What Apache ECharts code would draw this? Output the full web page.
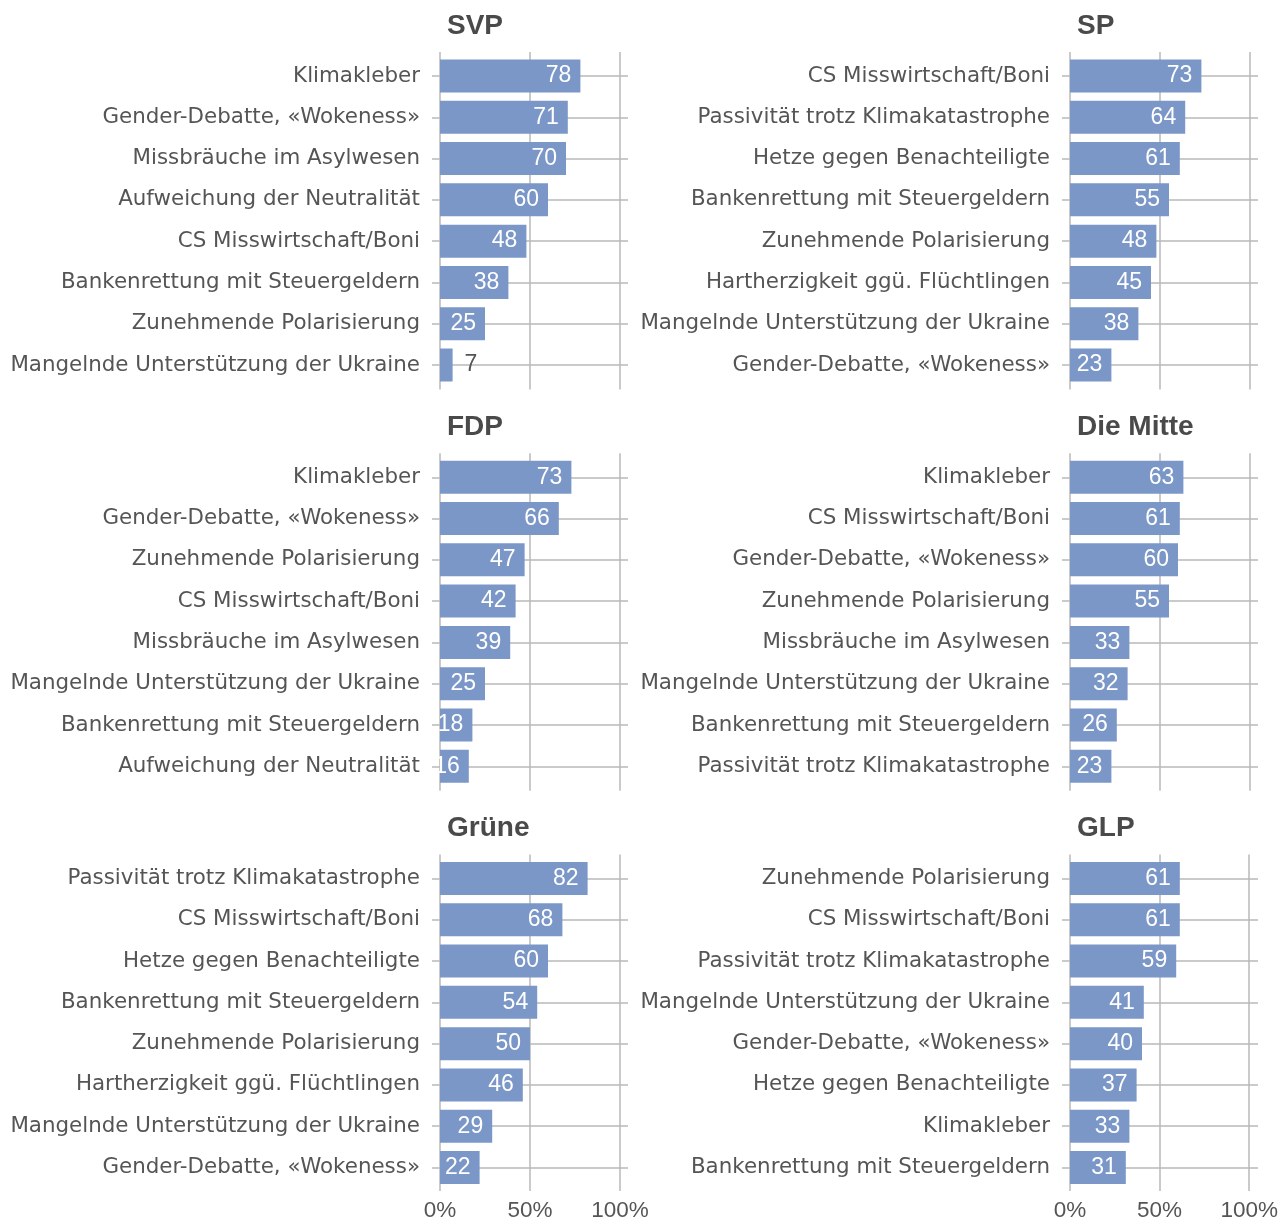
<!DOCTYPE html>
<html>
<head>
<meta charset="utf-8">
<script src="https://cdn.jsdelivr.net/npm/echarts@6/dist/echarts.min.js"></script>
<style>
  html, body { margin: 0; padding: 0; background: #fff; }
  #chart { width: 1281px; height: 1222px; }
</style>
</head>
<body>
<div id="chart"></div>
<script>
// data, in % of each party's voters
var svpCats = ['Klimakleber', 'Gender-Debatte, «Wokeness»', 'Missbräuche im Asylwesen', 'Aufweichung der Neutralität', 'CS Misswirtschaft/Boni', 'Bankenrettung mit Steuergeldern', 'Zunehmende Polarisierung', 'Mangelnde Unterstützung der Ukraine'];
var svpVals = [78, 71, 70, 60, 48, 38, 25, 7];

var spCats = ['CS Misswirtschaft/Boni', 'Passivität trotz Klimakatastrophe', 'Hetze gegen Benachteiligte', 'Bankenrettung mit Steuergeldern', 'Zunehmende Polarisierung', 'Hartherzigkeit ggü. Flüchtlingen', 'Mangelnde Unterstützung der Ukraine', 'Gender-Debatte, «Wokeness»'];
var spVals = [73, 64, 61, 55, 48, 45, 38, 23];

var fdpCats = ['Klimakleber', 'Gender-Debatte, «Wokeness»', 'Zunehmende Polarisierung', 'CS Misswirtschaft/Boni', 'Missbräuche im Asylwesen', 'Mangelnde Unterstützung der Ukraine', 'Bankenrettung mit Steuergeldern', 'Aufweichung der Neutralität'];
var fdpVals = [73, 66, 47, 42, 39, 25, 18, 16];

var mitteCats = ['Klimakleber', 'CS Misswirtschaft/Boni', 'Gender-Debatte, «Wokeness»', 'Zunehmende Polarisierung', 'Missbräuche im Asylwesen', 'Mangelnde Unterstützung der Ukraine', 'Bankenrettung mit Steuergeldern', 'Passivität trotz Klimakatastrophe'];
var mitteVals = [63, 61, 60, 55, 33, 32, 26, 23];

var grueneCats = ['Passivität trotz Klimakatastrophe', 'CS Misswirtschaft/Boni', 'Hetze gegen Benachteiligte', 'Bankenrettung mit Steuergeldern', 'Zunehmende Polarisierung', 'Hartherzigkeit ggü. Flüchtlingen', 'Mangelnde Unterstützung der Ukraine', 'Gender-Debatte, «Wokeness»'];
var grueneVals = [82, 68, 60, 54, 50, 46, 29, 22];

var glpCats = ['Zunehmende Polarisierung', 'CS Misswirtschaft/Boni', 'Passivität trotz Klimakatastrophe', 'Mangelnde Unterstützung der Ukraine', 'Gender-Debatte, «Wokeness»', 'Hetze gegen Benachteiligte', 'Klimakleber', 'Bankenrettung mit Steuergeldern'];
var glpVals = [61, 61, 59, 41, 40, 37, 33, 31];

var xTickLabels = ['0%', '50%', '100%'];

var panels = [
  { title: 'SVP', cats: svpCats, vals: svpVals },
  { title: 'SP', cats: spCats, vals: spVals },
  { title: 'FDP', cats: fdpCats, vals: fdpVals },
  { title: 'Die Mitte', cats: mitteCats, vals: mitteVals },
  { title: 'Grüne', cats: grueneCats, vals: grueneVals },
  { title: 'GLP', cats: glpCats, vals: glpVals }
];

var barColor = '#7b97c8';
var lineColor = '#b9b9b9';
var textColor = '#555555';

var myChart = echarts.init(document.getElementById('chart'));

var title = [], grid = [], xAxis = [], yAxis = [], series = [];

panels.forEach(function (p, i) {
  var col = i % 2;
  var row = Math.floor(i / 2);
  var x0 = col ? 1070 : 440;
  var top = row * 401.25;

  title.push({
    text: p.title,
    left: x0 + 7,
    top: top + 12,
    padding: 0,
    textStyle: { fontFamily: 'Liberation Sans', fontWeight: 'bold', fontSize: 28, color: '#4a4a4a' }
  });

  // grid with the vertical 0/50/100 lines (and bottom labels)
  var ga = grid.length;
  grid.push({ left: x0, top: top + 52, width: 180, height: 337.5 });
  xAxis.push({
    gridIndex: ga, type: 'value', min: 0, max: 100, interval: 50,
    axisLine: { show: false }, axisTick: { show: false },
    splitLine: { show: true, lineStyle: { color: lineColor, width: 1.5 } },
    axisLabel: {
      show: row === 2, margin: 8,
      fontFamily: 'Liberation Sans', fontSize: 22.5, color: textColor,
      formatter: function (v) { return xTickLabels[Math.round(v / 50)]; }
    }
  });
  yAxis.push({ gridIndex: ga, type: 'value', min: 0, max: 1, show: false });

  // grid with bars and the horizontal category lines
  var gb = grid.length;
  grid.push({ left: x0, top: top + 76, width: 188, height: 289 });
  xAxis.push({ gridIndex: gb, type: 'value', min: 0, max: 104.44, show: false });
  yAxis.push({
    gridIndex: gb, type: 'category', data: p.cats, inverse: true, boundaryGap: false,
    axisLine: { show: false },
    axisTick: { show: true, length: 8, interval: 0, lineStyle: { color: lineColor, width: 1.5 } },
    splitLine: { show: true, interval: 0, lineStyle: { color: lineColor, width: 1.5 } },
    axisLabel: { interval: 0, margin: 20, fontFamily: 'DejaVu Sans', fontSize: 21.4, color: textColor }
  });

  series.push({
    type: 'bar',
    xAxisIndex: gb, yAxisIndex: gb,
    barWidth: 33,
    itemStyle: { color: barColor },
    label: {
      show: true, position: 'insideRight', distance: 9,
      color: '#fff', fontFamily: 'Liberation Sans', fontSize: 23
    },
    data: p.vals.map(function (v) {
      if (v < 10) {
        return { value: v, label: { position: 'right', distance: 12, color: textColor } };
      }
      return v;
    })
  });
});

var option = {
  backgroundColor: '#fff',
  animation: false,
  title: title,
  grid: grid,
  xAxis: xAxis,
  yAxis: yAxis,
  series: series
};
myChart.setOption(option);
</script>
</body>
</html>
